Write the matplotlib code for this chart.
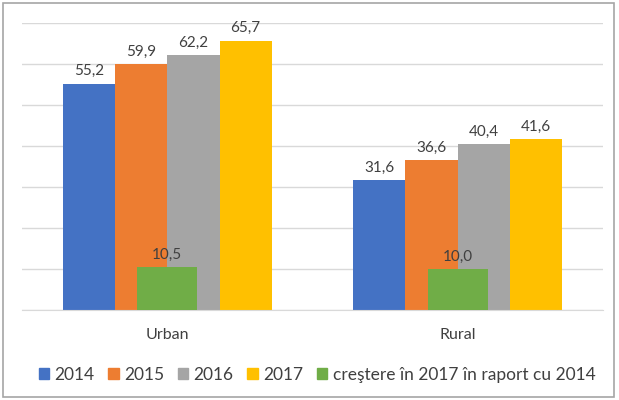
import matplotlib
matplotlib.use("Agg")
import matplotlib.pyplot as plt
from matplotlib.patches import Rectangle, Patch
import numpy as np

categories = ["Urban", "Rural"]
years = ["2014", "2015", "2016", "2017"]
v2014 = [55.2, 31.6]
v2015 = [59.9, 36.6]
v2016 = [62.2, 40.4]
v2017 = [65.7, 41.6]
growth = [10.5, 10.0]
growth_label = "creştere în 2017 în raport cu 2014"

colors = ["#4472C4", "#ED7D31", "#A5A5A5", "#FFC000"]
green = "#70AD47"
txt = "#404040"

plt.rcParams['font.family'] = ['Lato', 'DejaVu Sans']

fig = plt.figure(figsize=(6.19, 4.0), dpi=100)
ax = fig.add_axes([22/619, 90/400, 581/619, 287/400])

x = np.arange(len(categories))
w = 0.18
series = [v2014, v2015, v2016, v2017]
for i, (vals, c) in enumerate(zip(series, colors)):
    pos = x + (i - 1.5) * w
    bars = ax.bar(pos, vals, width=w, color=c, zorder=2)
    for b, v in zip(bars, vals):
        ax.text(b.get_x() + b.get_width()/2, v + 1.3, f"{v:.1f}".replace(".", ","),
                ha="center", va="bottom", fontsize=11, color=txt, zorder=4)

gb = ax.bar(x, growth, width=0.205, color=green, zorder=3)
for b, v in zip(gb, growth):
    ax.text(b.get_x() + b.get_width()/2, v + 1.3, f"{v:.1f}".replace(".", ","),
            ha="center", va="bottom", fontsize=11, color=txt, zorder=4)

ax.set_xlim(-0.5, 1.5)
ax.set_ylim(0, 70)
ax.set_yticks(np.arange(0, 71, 10))
ax.yaxis.grid(True, color="#D9D9D9", linewidth=1, zorder=0)
ax.tick_params(axis="y", left=False, labelleft=False)
ax.tick_params(axis="x", length=0, pad=13, labelsize=11.5, labelcolor=txt)
ax.set_xticks(x)
ax.set_xticklabels(categories)
for s in ["top", "right", "left"]:
    ax.spines[s].set_visible(False)
ax.spines["bottom"].set_color("#D9D9D9")

handles = [Patch(color=c, label=l) for c, l in zip(colors, years)] + [Patch(color=green, label=growth_label)]
fig.legend(handles=handles, loc="center", bbox_to_anchor=(0.512, 25/400), ncol=5, frameon=False,
           fontsize=12.5, labelcolor=txt, handlelength=0.6, handleheight=0.6, handletextpad=0.3,
           columnspacing=0.8)

fig.patches.append(Rectangle((3/619, 3/400), 611/619, 394/400, transform=fig.transFigure,
                             fill=False, edgecolor="#A6A6A6", linewidth=1.2))

fig.savefig("out.png", dpi=100)
